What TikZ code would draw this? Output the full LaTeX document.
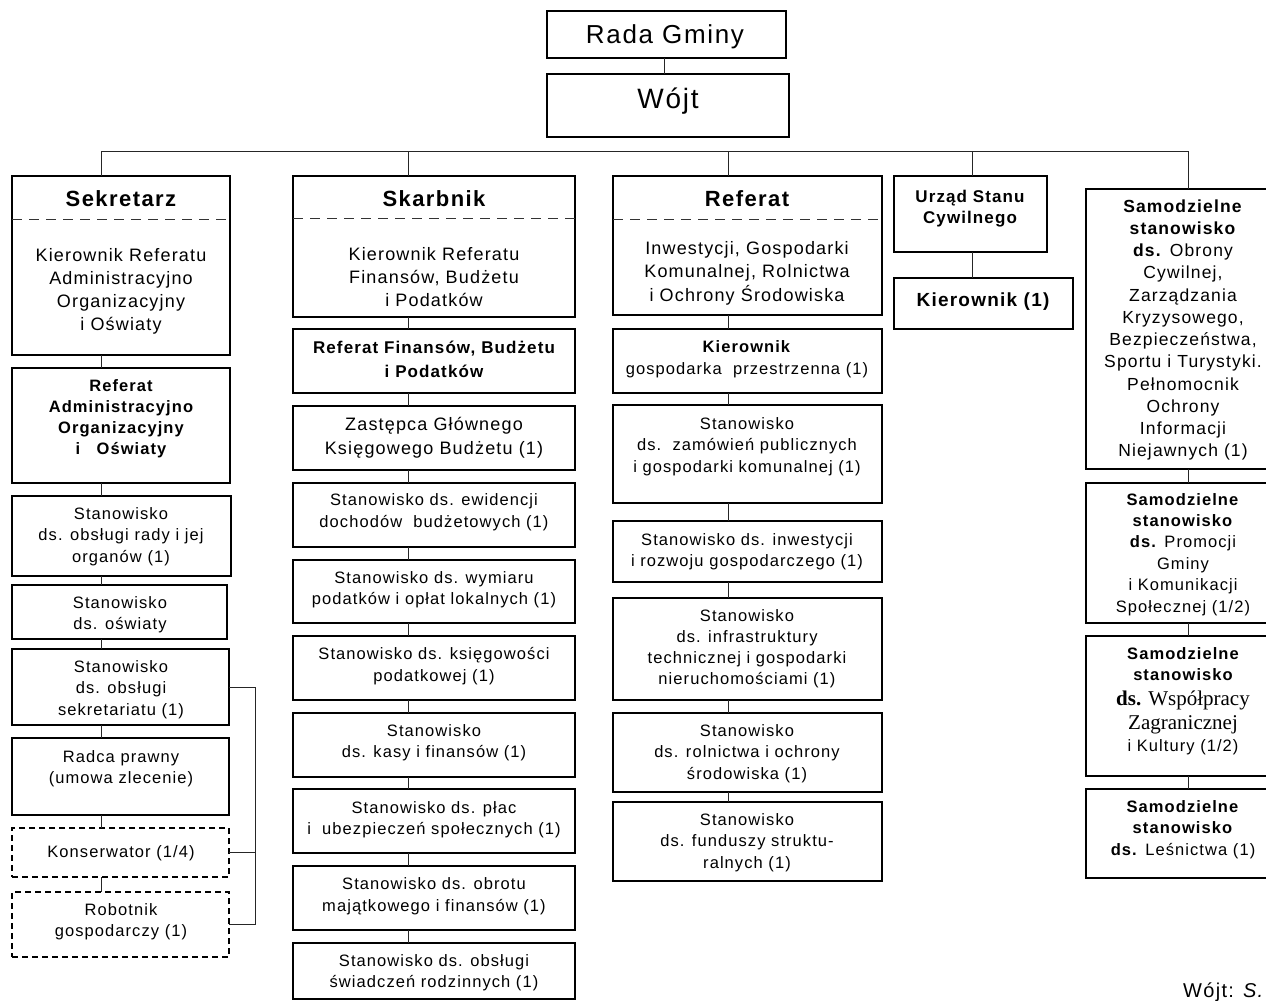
\documentclass[tikz,border=0pt]{standalone}
\usepackage{fontspec}
\setmainfont{Liberation Sans}[LetterSpace=6.5]
\newfontfamily\serifA{Liberation Serif}
\newcommand\lnst{\rule{0pt}{18pt}}
\newcommand\obox[6][]{\node[bx,#1,anchor=north west,minimum width={(#4-#2)*1pt},minimum height={(#5-#3)*1pt}] (#6) at (#2,#3) {};}
\tikzset{
  bx/.style={draw=black,line width=1.4pt,inner sep=0pt,outer sep=0pt},
  dbx/.style={dash pattern=on 6pt off 4pt},
  ln/.style={draw=black!85,line width=1pt},
  divl/.style={draw=black!80,line width=1pt,dash pattern=on 10pt off 7pt},
  t/.style={inner sep=0pt,outer sep=0pt,align=center,anchor=north,font=\fontsize{16.5}{21.5}\selectfont},
  hb/.style={t,font=\fontsize{18}{23.3}\selectfont},
  ttl/.style={inner sep=0pt,anchor=base,font=\fontsize{22}{26}\selectfont\bfseries},
}
\begin{document}
\begin{tikzpicture}[x=1pt,y=-1pt]
\useasboundingbox (0,0) rectangle (1266,1001);
% top
\obox{547}{11}{786}{58}{rada}
\obox{547}{74}{789}{137}{wojt}
\node[inner sep=0pt,anchor=base,font=\fontsize{26}{30}\selectfont] (radat) at (665,43) {Rada Gminy};
\node[inner sep=0pt,anchor=base,font=\fontsize{28}{32}\selectfont] (wojtt) at (668,108) {Wójt};
\draw[ln] (rada.south -| 664,0) -- (wojt.north -| 664,0);
% bus
\coordinate (c1) at (101,151);
\coordinate (c2) at (408,151);
\coordinate (c3) at (728,151);
\coordinate (c4) at (972,151);
\coordinate (c5) at (1188,151);
\draw[ln] (c1) -- (c5);

% ---------- column 1
\obox{12}{176}{230}{355}{sek}
\obox{12}{368}{230}{483}{refa}
\obox{12}{496}{231}{576}{s11}
\obox{12}{585}{227}{639}{s12}
\obox{12}{649}{229}{725}{s13}
\obox{12}{738}{229}{815}{s14}
\obox[dbx]{12}{828}{229}{877}{kon}
\obox[dbx]{12}{892}{229}{957}{rob}
\draw[divl] (sek.west |- 0,219) -- (sek.east |- 0,219);
\node[ttl] (sekt) at (121,206) {Sekretarz};
\node[hb] (sekk) at (121,243) {\lnst Kierownik Referatu\\Administracyjno\\Organizacyjny\\i Oświaty};
\node[t,font=\fontsize{16.5}{21}\selectfont\bfseries] (refat) at (121,373) {\lnst Referat\\Administracyjno\\Organizacyjny\\i\quad Oświaty};
\node[t] (s11t) at (121,501) {\lnst Stanowisko\\ds. obsługi rady i jej\\organów (1)};
\node[t] (s12t) at (120,590) {\lnst Stanowisko\\ds. oświaty};
\node[t] (s13t) at (121,654) {\lnst Stanowisko\\ds. obsługi\\sekretariatu (1)};
\node[t] (s14t) at (121,744) {\lnst Radca prawny\\(umowa zlecenie)};
\node[t,anchor=base] (kont) at (121,857) {Konserwator (1/4)};
\node[t] (robt) at (121,897) {\lnst Robotnik\\gospodarczy (1)};
\draw[ln] (c1) -- (sek.north -| c1);
\draw[ln] (sek.south -| c1) -- (refa.north -| c1);
\draw[ln] (refa.south -| c1) -- (s11.north -| c1);
\draw[ln] (s11.south -| c1) -- (s12.north -| c1);
\draw[ln] (s12.south -| c1) -- (s13.north -| c1);
\draw[ln] (s13.south -| c1) -- (s14.north -| c1);
\draw[ln] (s14.south -| c1) -- (kon.north -| c1);
\draw[ln] (kon.south -| c1) -- (rob.north -| c1);
\coordinate (br) at (255,687);
\draw[ln] (s13.east) -- (br) |- (rob.east);
\draw[ln] (kon.east) -- (kon.east -| br);

% ---------- column 2
\obox{293}{176}{575}{317}{skb}
\obox{293}{329}{575}{393}{rfb}
\obox{293}{406}{575}{470}{zas}
\obox{293}{483}{575}{547}{ewi}
\obox{293}{560}{575}{623}{wym}
\obox{293}{636}{575}{700}{ksi}
\obox{293}{713}{575}{777}{kas}
\obox{293}{789}{575}{853}{pla}
\obox{293}{866}{575}{930}{obr}
\obox{293}{943}{575}{999}{swi}
\draw[divl] (skb.west |- 0,218) -- (skb.east |- 0,218);
\node[ttl] (skbt) at (434,206) {Skarbnik};
\node[hb,font=\fontsize{18}{23}\selectfont] (skbk) at (434,242) {\lnst Kierownik Referatu\\Finansów, Budżetu\\i Podatków};
\node[t,font=\fontsize{17}{24}\selectfont\bfseries] (rfbt) at (434,335) {\lnst Referat Finansów, Budżetu\\i Podatków};
\node[t,font=\fontsize{18}{24}\selectfont] (zast) at (434,412) {\lnst Zastępca Głównego\\Księgowego Budżetu (1)};
\node[t,font=\fontsize{16.5}{22}\selectfont] (ewit) at (434,487) {\lnst Stanowisko ds. ewidencji\\dochodów\ \ budżetowych (1)};
\node[t] (wymt) at (434,565) {\lnst Stanowisko ds. wymiaru\\podatków i opłat lokalnych (1)};
\node[t,font=\fontsize{16.5}{22}\selectfont] (ksit) at (434,641) {\lnst Stanowisko ds. księgowości\\podatkowej (1)};
\node[t] (kast) at (434,718) {\lnst Stanowisko\\ds. kasy i finansów (1)};
\node[t] (plat) at (434,795) {\lnst Stanowisko ds. płac\\i\ \ ubezpieczeń społecznych (1)};
\node[t,font=\fontsize{16.5}{22}\selectfont] (obrt) at (434,871) {\lnst Stanowisko ds. obrotu\\majątkowego i finansów (1)};
\node[t] (swit) at (434,948) {\lnst Stanowisko ds. obsługi\\świadczeń rodzinnych (1)};
\draw[ln] (c2) -- (skb.north -| c2);
\draw[ln] (skb.south -| c2) -- (rfb.north -| c2);
\draw[ln] (rfb.south -| c2) -- (zas.north -| c2);
\draw[ln] (zas.south -| c2) -- (ewi.north -| c2);
\draw[ln] (ewi.south -| c2) -- (wym.north -| c2);
\draw[ln] (wym.south -| c2) -- (ksi.north -| c2);
\draw[ln] (ksi.south -| c2) -- (kas.north -| c2);
\draw[ln] (kas.south -| c2) -- (pla.north -| c2);
\draw[ln] (pla.south -| c2) -- (obr.north -| c2);
\draw[ln] (obr.south -| c2) -- (swi.north -| c2);

% ---------- column 3
\obox{613}{176}{882}{315}{ref}
\obox{613}{329}{882}{393}{kie}
\obox{613}{405}{882}{503}{zam}
\obox{613}{521}{882}{582}{inw}
\obox{613}{598}{882}{700}{inf}
\obox{613}{713}{882}{792}{rol}
\obox{613}{802}{882}{881}{fun}
\draw[divl] (ref.west |- 0,219) -- (ref.east |- 0,219);
\node[ttl] (reft) at (747,206) {Referat};
\node[hb,font=\fontsize{18}{23.5}\selectfont] (refi) at (747,236) {\lnst Inwestycji, Gospodarki\\Komunalnej, Rolnictwa\\i Ochrony Środowiska};
\node[t,font=\fontsize{16.5}{22}\selectfont] (kiet) at (747,334) {\lnst\textbf{Kierownik}\\gospodarka\ \ przestrzenna (1)};
\node[t] (zamt) at (747,411) {\lnst Stanowisko\\ds.\ \ zamówień publicznych\\i gospodarki komunalnej (1)};
\node[t] (inwt) at (747,527) {\lnst Stanowisko ds. inwestycji\\i rozwoju gospodarczego (1)};
\node[t,font=\fontsize{16.5}{21.3}\selectfont] (inft) at (747,603) {\lnst Stanowisko\\ds. infrastruktury\\technicznej i gospodarki\\nieruchomościami (1)};
\node[t] (rolt) at (747,718) {\lnst Stanowisko\\ds. rolnictwa i ochrony\\środowiska (1)};
\node[t] (funt) at (747,807) {\lnst Stanowisko\\ds. funduszy struktu-\\ralnych (1)};
\draw[ln] (c3) -- (ref.north -| c3);
\draw[ln] (ref.south -| c3) -- (kie.north -| c3);
\draw[ln] (kie.south -| c3) -- (zam.north -| c3);
\draw[ln] (zam.south -| c3) -- (inw.north -| c3);
\draw[ln] (inw.south -| c3) -- (inf.north -| c3);
\draw[ln] (inf.south -| c3) -- (rol.north -| c3);
\draw[ln] (rol.south -| c3) -- (fun.north -| c3);

% ---------- column 4
\obox{894}{176}{1047}{252}{usc}
\obox{894}{278}{1073}{329}{kier}
\node[t,font=\fontsize{17}{21}\selectfont\bfseries] (usct) at (970,184) {\lnst Urząd Stanu\\Cywilnego};
\node[inner sep=0pt,anchor=base,font=\fontsize{19}{22}\selectfont\bfseries] (kiert) at (983,306) {Kierownik (1)};
\draw[ln] (c4) -- (usc.north -| c4);
\draw[ln] (usc.south -| c4) -- (kier.north -| c4);

% ---------- column 5
\obox{1086}{189}{1285}{469}{sa1}
\obox{1086}{483}{1285}{623}{sa2}
\obox{1086}{636}{1285}{776}{sa3}
\obox{1086}{789}{1285}{878}{sa4}
\node[t,font=\fontsize{17.5}{22.27}\selectfont] (sa1t) at (1183,194) {\lnst\textbf{Samodzielne}\\\textbf{stanowisko}\\\textbf{ds.} Obrony\\Cywilnej,\\Zarządzania\\Kryzysowego,\\Bezpieczeństwa,\\Sportu i Turystyki.\\Pełnomocnik\\Ochrony\\Informacji\\Niejawnych (1)};
\node[t,font=\fontsize{16.5}{21.4}\selectfont] (sa2t) at (1183,487) {\lnst\textbf{Samodzielne}\\\textbf{stanowisko}\\\textbf{ds.} Promocji\\Gminy\\i Komunikacji\\Społecznej (1/2)};
\node[inner sep=0pt,anchor=base,font=\fontsize{16.5}{20}\selectfont\bfseries] (sa3a) at (1183,659) {Samodzielne};
\node[inner sep=0pt,anchor=base,font=\fontsize{16.5}{20}\selectfont\bfseries] (sa3b) at (1183,680) {stanowisko};
\node[inner sep=0pt,anchor=base,font=\fontsize{21}{24}\serifA] (sa3c) at (1183,705) {\textbf{ds.} Współpracy};
\node[inner sep=0pt,anchor=base,font=\fontsize{21}{24}\serifA] (sa3d) at (1183,729) {Zagranicznej};
\node[inner sep=0pt,anchor=base,font=\fontsize{16.5}{20}\selectfont] (sa3e) at (1183,751) {i Kultury (1/2)};
\node[t] (sa4t) at (1183,794) {\lnst\textbf{Samodzielne}\\\textbf{stanowisko}\\\textbf{ds.} Leśnictwa (1)};
\draw[ln] (c5) -- (sa1.north -| c5);
\draw[ln] (sa1.south -| c5) -- (sa2.north -| c5);
\draw[ln] (sa2.south -| c5) -- (sa3.north -| c5);
\draw[ln] (sa3.south -| c5) -- (sa4.north -| c5);

% footer
\node[inner sep=0pt,anchor=base west,font=\fontsize{20}{24}\selectfont] (foot) at (1183,997) {Wójt: \textit{S.}};
\end{tikzpicture}
\end{document}
